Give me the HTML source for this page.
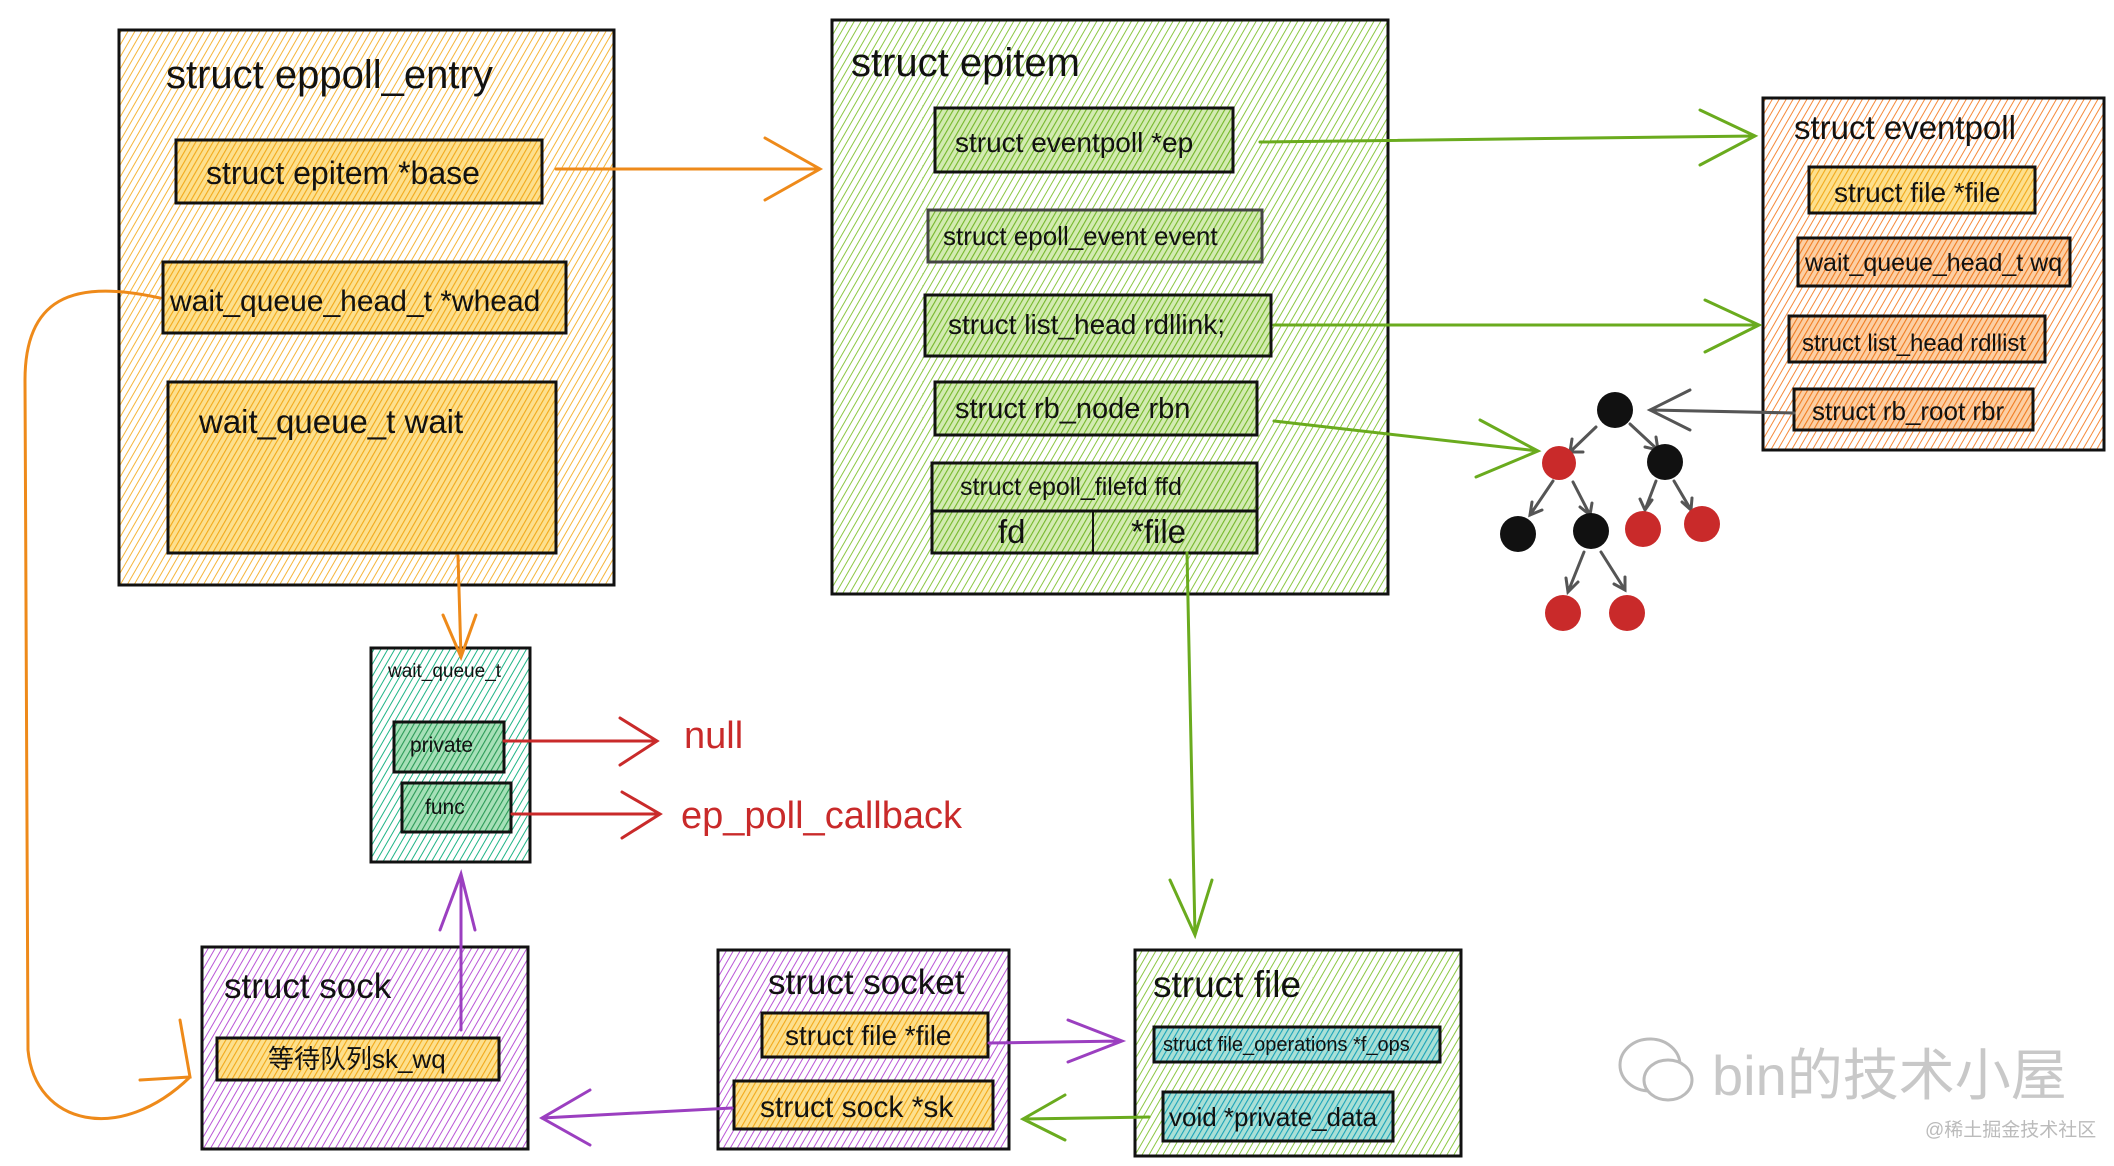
<!DOCTYPE html>
<html><head><meta charset="utf-8"><style>
html,body{margin:0;padding:0;background:#fff;}
svg{display:block;}
text{font-family:"Liberation Sans","Noto Sans CJK SC",sans-serif;fill:#111;}
</style></head><body>
<svg width="2114" height="1166" viewBox="0 0 2114 1166" xmlns="http://www.w3.org/2000/svg">
<defs>
<pattern id="pO" width="6" height="6" patternUnits="userSpaceOnUse" patternTransform="rotate(30)"><rect width="6" height="6" fill="#fff"/><line x1="0" y1="0" x2="0" y2="6" stroke="#f5b53a" stroke-width="2"/></pattern>
<pattern id="pO2" width="5" height="5" patternUnits="userSpaceOnUse" patternTransform="rotate(30)"><rect width="5" height="5" fill="#fde08e"/><line x1="0" y1="0" x2="0" y2="5" stroke="#f2a91a" stroke-width="2.2"/></pattern>
<pattern id="pG" width="6" height="6" patternUnits="userSpaceOnUse" patternTransform="rotate(30)"><rect width="6" height="6" fill="#fff"/><line x1="0" y1="0" x2="0" y2="6" stroke="#86c43a" stroke-width="1.9"/></pattern>
<pattern id="pG2" width="5" height="5" patternUnits="userSpaceOnUse" patternTransform="rotate(30)"><rect width="5" height="5" fill="#d3ebb2"/><line x1="0" y1="0" x2="0" y2="5" stroke="#74b72a" stroke-width="2.2"/></pattern>
<pattern id="pR" width="6" height="6" patternUnits="userSpaceOnUse" patternTransform="rotate(30)"><rect width="6" height="6" fill="#fff"/><line x1="0" y1="0" x2="0" y2="6" stroke="#f58a3a" stroke-width="2"/></pattern>
<pattern id="pR2" width="5" height="5" patternUnits="userSpaceOnUse" patternTransform="rotate(30)"><rect width="5" height="5" fill="#fccfa4"/><line x1="0" y1="0" x2="0" y2="5" stroke="#f07c20" stroke-width="2.2"/></pattern>
<pattern id="pT" width="6" height="6" patternUnits="userSpaceOnUse" patternTransform="rotate(30)"><rect width="6" height="6" fill="#fff"/><line x1="0" y1="0" x2="0" y2="6" stroke="#20b486" stroke-width="2"/></pattern>
<pattern id="pT2" width="5" height="5" patternUnits="userSpaceOnUse" patternTransform="rotate(30)"><rect width="5" height="5" fill="#a6e0b8"/><line x1="0" y1="0" x2="0" y2="5" stroke="#2a9a56" stroke-width="2.2"/></pattern>
<pattern id="pP" width="6" height="6" patternUnits="userSpaceOnUse" patternTransform="rotate(30)"><rect width="6" height="6" fill="#fff"/><line x1="0" y1="0" x2="0" y2="6" stroke="#b956d6" stroke-width="2"/></pattern>
<pattern id="pC" width="5" height="5" patternUnits="userSpaceOnUse" patternTransform="rotate(30)"><rect width="5" height="5" fill="#a9e0d6"/><line x1="0" y1="0" x2="0" y2="5" stroke="#1aa3b8" stroke-width="2.2"/></pattern>
</defs>
<g stroke="#111" stroke-width="3">
<rect x="119" y="30" width="495" height="555" fill="url(#pO)"/>
<rect x="176" y="140" width="366" height="63" fill="url(#pO2)"/>
<rect x="163" y="262" width="403" height="71" fill="url(#pO2)"/>
<rect x="168" y="382" width="388" height="171" fill="url(#pO2)"/>
<rect x="832" y="20" width="556" height="574" fill="url(#pG)"/>
<rect x="935" y="108" width="298" height="64" fill="url(#pG2)"/>
<rect x="928" y="210" width="334" height="52" fill="url(#pG2)" stroke="#444"/>
<rect x="925" y="295" width="346" height="61" fill="url(#pG2)"/>
<rect x="935" y="382" width="322" height="53" fill="url(#pG2)"/>
<rect x="932" y="463" width="325" height="90" fill="url(#pG2)"/>
<line x1="932" y1="511" x2="1257" y2="511"/>
<line x1="1093" y1="511" x2="1093" y2="553" stroke-width="2"/>
<rect x="1763" y="98" width="341" height="352" fill="url(#pR)"/>
<rect x="1809" y="167" width="226" height="46" fill="url(#pO2)"/>
<rect x="1798" y="238" width="272" height="48" fill="url(#pR2)"/>
<rect x="1789" y="316" width="256" height="46" fill="url(#pR2)"/>
<rect x="1794" y="389" width="239" height="41" fill="url(#pR2)"/>
<rect x="371" y="648" width="159" height="214" fill="url(#pT)"/>
<rect x="394" y="722" width="110" height="50" fill="url(#pT2)"/>
<rect x="402" y="783" width="109" height="49" fill="url(#pT2)"/>
<rect x="202" y="947" width="326" height="202" fill="url(#pP)"/>
<rect x="217" y="1038" width="282" height="42" fill="url(#pO2)"/>
<rect x="718" y="950" width="291" height="199" fill="url(#pP)"/>
<rect x="762" y="1013" width="226" height="44" fill="url(#pO2)"/>
<rect x="734" y="1081" width="259" height="48" fill="url(#pO2)"/>
<rect x="1135" y="950" width="326" height="206" fill="url(#pG)"/>
<rect x="1154" y="1027" width="286" height="35" fill="url(#pC)"/>
<rect x="1163" y="1092" width="230" height="49" fill="url(#pC)"/>
</g>
<text x="166" y="88" font-size="40">struct eppoll_entry</text>
<text x="206" y="184" font-size="32">struct epitem *base</text>
<text x="170" y="311" font-size="30">wait_queue_head_t *whead</text>
<text x="199" y="433" font-size="33">wait_queue_t wait</text>
<text x="851" y="76" font-size="40">struct epitem</text>
<text x="955" y="152" font-size="28">struct eventpoll *ep</text>
<text x="943" y="245" font-size="26">struct epoll_event event</text>
<text x="948" y="334" font-size="28">struct list_head rdllink;</text>
<text x="955" y="418" font-size="29">struct rb_node rbn</text>
<text x="960" y="495" font-size="25">struct epoll_filefd ffd</text>
<text x="998" y="543" font-size="33">fd</text>
<text x="1131" y="543" font-size="33">*file</text>
<text x="1794" y="139" font-size="33">struct eventpoll</text>
<text x="1834" y="202" font-size="28">struct file *file</text>
<text x="1805" y="271" font-size="25">wait_queue_head_t wq</text>
<text x="1802" y="351" font-size="24">struct list_head rdllist</text>
<text x="1812" y="420" font-size="26">struct rb_root rbr</text>
<text x="388" y="677" font-size="19">wait_queue_t</text>
<text x="410" y="752" font-size="21">private</text>
<text x="425" y="814" font-size="21">func</text>
<text x="684" y="748" font-size="38" style="fill:#c92a2a">null</text>
<text x="681" y="828" font-size="38" style="fill:#c92a2a">ep_poll_callback</text>
<text x="224" y="998" font-size="35">struct sock</text>
<text x="268" y="1068" font-size="26">等待队列sk_wq</text>
<text x="768" y="994" font-size="35">struct socket</text>
<text x="785" y="1045" font-size="28">struct file *file</text>
<text x="760" y="1117" font-size="30">struct sock *sk</text>
<text x="1153" y="997" font-size="37">struct file</text>
<text x="1163" y="1051" font-size="20">struct file_operations *f_ops</text>
<text x="1169" y="1126" font-size="26">void *private_data</text>
<g fill="none" stroke-width="3" stroke-linecap="round">
<g stroke="#ee8a1a">
<path d="M556,169 L820,169 M765,138 L820,169 L765,200"/>
<path d="M458,556 L461,657 M443,615 L461,657 L476,615"/>
<path d="M160,298 C70,278 25,300 25,380 L28,1050 C35,1125 120,1145 190,1077 M180,1020 L190,1077 L140,1080"/>
</g>
<g stroke="#6aab1e">
<path d="M1260,142 L1755,136 M1700,110 L1755,136 L1700,165"/>
<path d="M1274,325 L1759,325 M1705,300 L1759,325 L1705,352"/>
<path d="M1274,421 L1538,451 M1480,420 L1538,451 L1476,477"/>
<path d="M1187,553 L1195,935 M1170,880 L1195,935 L1212,880"/>
<path d="M1149,1117 L1023,1119 M1065,1095 L1023,1119 L1065,1140"/>
</g>
<g stroke="#555">
<path d="M1794,413 L1650,410 M1690,390 L1650,410 L1690,430"/>
<path d="M1596,427 L1570,452 M1572,439 L1570,452 L1583,452"/>
<path d="M1630,424 L1658,450 M1645,447 L1658,450 L1656,437"/>
<path d="M1553,481 L1530,515 M1532,502 L1530,515 L1542,510"/>
<path d="M1573,482 L1590,515 M1580,507 L1590,515 L1592,503"/>
<path d="M1656,481 L1645,510 M1640,499 L1645,510 L1652,500"/>
<path d="M1674,481 L1691,510 M1682,502 L1691,510 L1692,498"/>
<path d="M1584,552 L1568,592 M1566,578 L1568,592 L1578,582"/>
<path d="M1601,552 L1625,590 M1614,584 L1625,590 L1625,577"/>
</g>
<g stroke="#c92a2a">
<path d="M504,741 L657,741 M620,718 L657,741 L620,765"/>
<path d="M512,814 L660,814 M622,792 L660,814 L622,838"/>
</g>
<g stroke="#9b3fc0">
<path d="M461,1030 L461,874 M440,930 L461,874 L475,930"/>
<path d="M989,1043 L1122,1041 M1068,1020 L1122,1041 L1068,1062"/>
<path d="M732,1108 L542,1118 M590,1090 L542,1118 L590,1145"/>
</g>
</g>
<g>
<circle cx="1615" cy="410" r="18" fill="#111"/>
<circle cx="1559" cy="463" r="17" fill="#c92a2a"/>
<circle cx="1665" cy="462" r="18" fill="#111"/>
<circle cx="1518" cy="534" r="18" fill="#111"/>
<circle cx="1591" cy="531" r="18" fill="#111"/>
<circle cx="1643" cy="529" r="18" fill="#c92a2a"/>
<circle cx="1702" cy="524" r="18" fill="#c92a2a"/>
<circle cx="1563" cy="613" r="18" fill="#c92a2a"/>
<circle cx="1627" cy="613" r="18" fill="#c92a2a"/>
</g>
<g fill="none" stroke="#bbb" stroke-width="3">
<ellipse cx="1650" cy="1065" rx="30" ry="26"/>
<ellipse cx="1668" cy="1080" rx="24" ry="20" fill="#fff"/>
</g>
<text x="1712" y="1095" font-size="56" style="fill:#c8c8c8">bin的技术小屋</text>
<text x="1925" y="1136" font-size="19" style="fill:#bbb">@稀土掘金技术社区</text>
</svg>
</body></html>
